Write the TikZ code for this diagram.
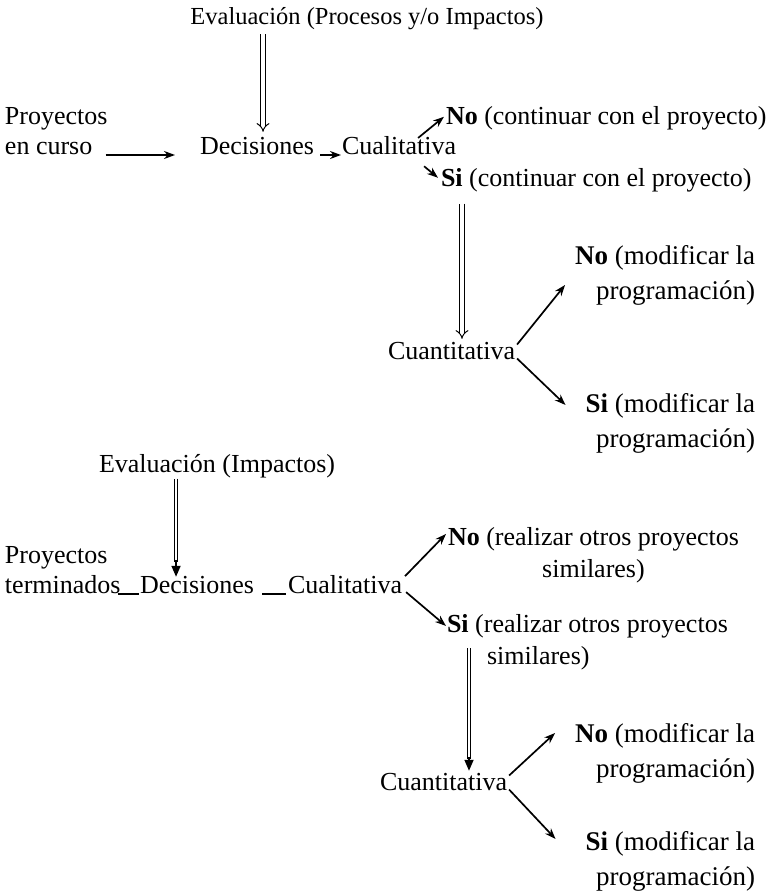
\documentclass[tikz,border=0pt]{standalone}
\usepackage{fontspec}
\setmainfont{Liberation Serif}
\usetikzlibrary{arrows.meta,calc}

\begin{document}
\begin{tikzpicture}[x=1pt,y=-1pt,inner sep=0pt,outer sep=0pt,line width=1.7pt,
txt/.style={anchor=base west,align=left,font=\fontsize{26}{32}\selectfont},
rtxt/.style={anchor=base east,align=right,font=\fontsize{27}{35}\selectfont},
arr/.style={-{Stealth[length=11pt,width=8pt]}},
dbl/.style={double,double distance=3.5pt,line width=1pt,-{Implies}},
dblline/.style={double,double distance=2pt,line width=1.3pt},
tip/.style={-{Triangle[length=11pt,width=9pt]}}]
\useasboundingbox (0,0) rectangle (772,891);
% proyectos en curso
\draw (367,25) node[txt,anchor=base,font=\fontsize{24.5}{30}\selectfont] (eval1) {Evaluación (Procesos y/o Impactos)};
\draw (5,154) node[txt,font=\fontsize{26}{30}\selectfont] (proy1) {Proyectos\\en curso};
\draw (200,154) node[txt] (dec1) {Decisiones};
\draw (342,154) node[txt] (cual1) {Cualitativa};
\draw (446,124) node[txt] (no1) {\textbf{No} (continuar con el proyecto)};
\draw (441,186) node[txt] (si1) {\textbf{Si} (continuar con el proyecto)};
\draw (388,359) node[txt] (cuan1) {Cuantitativa};
\draw (755,299) node[rtxt] (no2) {\textbf{No} (modificar la\\programación)};
\draw (755,447) node[rtxt] (si2) {\textbf{Si} (modificar la\\programación)};
\draw[dbl] ([xshift=6pt,yshift=-4pt]eval1.south -| dec1.north) -- ([xshift=6pt,yshift=5pt]dec1.north);
\draw[arr] ($(proy1.east |- dec1.base)+(-2,1)$) -- ($(dec1.base west)+(-25,1)$);
\draw[arr] ($(dec1.base east)+(6,1)$) -- ($(cual1.base west)+(-1,1)$);
\draw[arr] ($(cual1.north east)+(-38,2)$) -- ($(no1.west)+(-2,-1)$);
\draw[arr] ($(cual1.south east)+(-32,12)$) -- ($(si1.west)+(-3,-2)$);
\draw[dbl] ([xshift=21pt,yshift=-12pt]si1.south west) -- ([xshift=21pt,yshift=3pt]si1.south west |- cuan1.north);
\draw[arr] ($(cuan1.east)+(2,-6)$) -- ($(no2.north west)+(-10,40)$);
\draw[arr] ($(cuan1.east)+(2,8)$) -- ($(si2.north west)+(-20,12)$);
% proyectos terminados
\draw (99,472) node[txt] (eval2) {Evaluación (Impactos)};
\draw (5,593) node[txt,font=\fontsize{26}{30}\selectfont] (proy2) {Proyectos\\terminados};
\draw (140,593) node[txt] (dec2) {Decisiones};
\draw (288,593) node[txt] (cual2) {Cualitativa};
\draw (448,577) node[txt,align=center] (no3) {\textbf{No} (realizar otros proyectos\\similares)};
\draw (447,664) node[txt] (si3) {\textbf{Si} (realizar otros proyectos\\\hspace*{40pt}similares)};
\draw (380,790) node[txt] (cuan2) {Cuantitativa};
\draw (755,777) node[rtxt] (no4) {\textbf{No} (modificar la\\programación)};
\draw (755,885) node[rtxt] (si4) {\textbf{Si} (modificar la\\programación)};
\draw[dblline] ([xshift=-21pt,yshift=-1pt]eval2.south -| dec2.north) -- ([xshift=-21pt,yshift=14pt]dec2.north);
\draw[tip] ([xshift=-21pt,yshift=16pt]dec2.north) -- ([xshift=-21pt,yshift=-1pt]dec2.north);
\draw ($(proy2.east |- dec2.base)+(-3,1)$) -- ($(dec2.base west)+(-1,1)$);
\draw ($(dec2.base east)+(8,1)$) -- ($(cual2.base west)+(-2,1)$);
\draw[arr] ($(cual2.east)+(3,-8)$) -- ($(no3.north west)+(-2,7)$);
\draw[arr] ($(cual2.east)+(4,8)$) -- ($(si3.north west)+(-1,12)$);
\draw[dblline] ([xshift=22pt,yshift=16pt]si3.base west) -- ([xshift=22pt,yshift=14pt]si3.base west |- cuan2.north);
\draw[tip] ([xshift=22pt,yshift=16pt]si3.base west |- cuan2.north) -- ([xshift=22pt,yshift=2pt]si3.base west |- cuan2.north);
\draw[arr] ($(cuan2.east)+(2,-6)$) -- ($(no4.north west)+(-20,10)$);
\draw[arr] ($(cuan2.east)+(2,8)$) -- ($(si4.north west)+(-30,8)$);
\end{tikzpicture}
\end{document}
